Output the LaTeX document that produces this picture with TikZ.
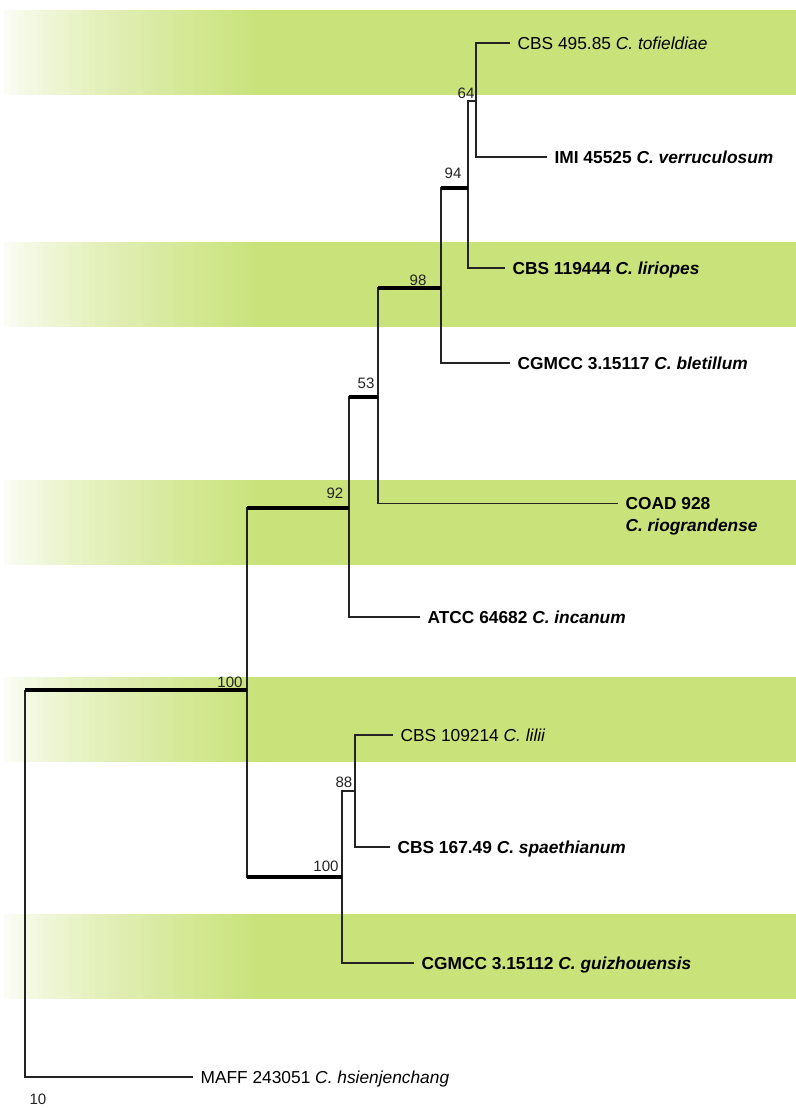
\documentclass[tikz,border=0pt]{standalone}
\usepackage{fontspec}
\setmainfont{Liberation Sans}
\definecolor{bandgreen}{RGB}{201,226,122}
\definecolor{branchgray}{RGB}{35,35,35}

\begin{document}
\begin{tikzpicture}[x=0.75pt, y=-0.75pt,
branch/.style={draw=branchgray, line width=0.8pt},
support/.style={draw=black, line width=2.8pt},
taxon/.style={anchor=west, inner xsep=5.5pt, inner ysep=0pt, text height=9.3pt, text depth=0pt, font=\fontsize{13}{15}\selectfont},
taxonbf/.style={taxon, font=\fontsize{13}{15}\selectfont\bfseries},
twoline/.style={anchor=north west, inner xsep=5.5pt, inner ysep=2pt, align=left, font=\fontsize{13}{16.5}\selectfont\bfseries},
boot/.style={inner sep=0pt, font=\fontsize{11.3}{13}\selectfont, text=branchgray}]

\useasboundingbox (0,0) rectangle (796,1108);

% green bands, fading out to the left
\foreach \y in {10,242,480,677,914}{
  \fill[bandgreen] (262,\y) rectangle (796,\y+85);
  \foreach \i in {1,...,40}{
    \pgfmathsetmacro\p{100*(\i/40)^0.7}
    \fill[bandgreen!\p!white] (4+6.5*\i-6.5,\y) rectangle (11+6.5*\i-6.5,\y+85);
  }
}

% internal nodes
\coordinate (root) at (25,690);
\coordinate (n100a) at (247,690);
\coordinate (n92) at (349,508);
\coordinate (n53) at (378,397);
\coordinate (n98) at (441,288);
\coordinate (n94) at (468,188);
\coordinate (n64) at (476,101);
\coordinate (n100b) at (342,877);
\coordinate (n88) at (355,791);

% taxa
\node[taxon] (tof) at (510,43) {CBS 495.85 \textit{C. tofieldiae}};
\node[taxonbf] (verr) at (547,157) {IMI 45525 \textit{C. verruculosum}};
\node[taxonbf] (lir) at (505,268) {CBS 119444 \textit{C. liriopes}};
\node[taxonbf] (blet) at (510,363) {CGMCC 3.15117 \textit{C. bletillum}};
\node[twoline] (coad) at (618,494.3) {COAD 928\\\textit{C. riograndense}};
\node[taxonbf] (inc) at (420,617) {ATCC 64682 \textit{C. incanum}};
\node[taxon] (lil) at (393,735) {CBS 109214 \textit{C. lilii}};
\node[taxonbf] (spa) at (390,847) {CBS 167.49 \textit{C. spaethianum}};
\node[taxonbf] (gui) at (414,963) {CGMCC 3.15112 \textit{C. guizhouensis}};
\node[taxon] (maff) at (193,1077) {MAFF 243051 \textit{C. hsienjenchang}};

% branches
\draw[branch] (root) |- (maff.west);
\draw[branch] (n100a) |- (n92);
\draw[branch] (n100a) |- (n100b);
\draw[branch] (n92) |- (n53);
\draw[branch] (n92) |- (inc.west);
\draw[branch] (n53) |- (n98);
\draw[branch] (n53) |- ([yshift=-6.65pt]coad.north west);
\draw[branch] (n98) |- (n94);
\draw[branch] (n98) |- (blet.west);
\draw[branch] (n94) |- (n64);
\draw[branch] (n94) |- (lir.west);
\draw[branch] (n64) |- (tof.west);
\draw[branch] (n64) |- (verr.west);
\draw[branch] (n100b) |- (n88);
\draw[branch] (n100b) |- (gui.west);
\draw[branch] (n88) |- (lil.west);
\draw[branch] (n88) |- (spa.west);

% well supported branches
\draw[support] (root) -- (n100a);
\draw[support] (n100a |- n92) -- (n92);
\draw[support] (n100a |- n100b) -- (n100b);
\draw[support] (n92 |- n53) -- (n53);
\draw[support] (n53 |- n98) -- (n98);
\draw[support] (n98 |- n94) -- (n94);

% bootstrap values
\node[boot] (s64) at (466,93) {64};
\node[boot] (s94) at (453,173) {94};
\node[boot] (s98) at (418,280) {98};
\node[boot] (s53) at (366,383) {53};
\node[boot] (s92) at (335,493) {92};
\node[boot] (s100a) at (230,682) {100};
\node[boot] (s88) at (344,782) {88};
\node[boot] (s100b) at (326,866) {100};
\node[boot] (scale) at (38,1099) {10};

\end{tikzpicture}
\end{document}
